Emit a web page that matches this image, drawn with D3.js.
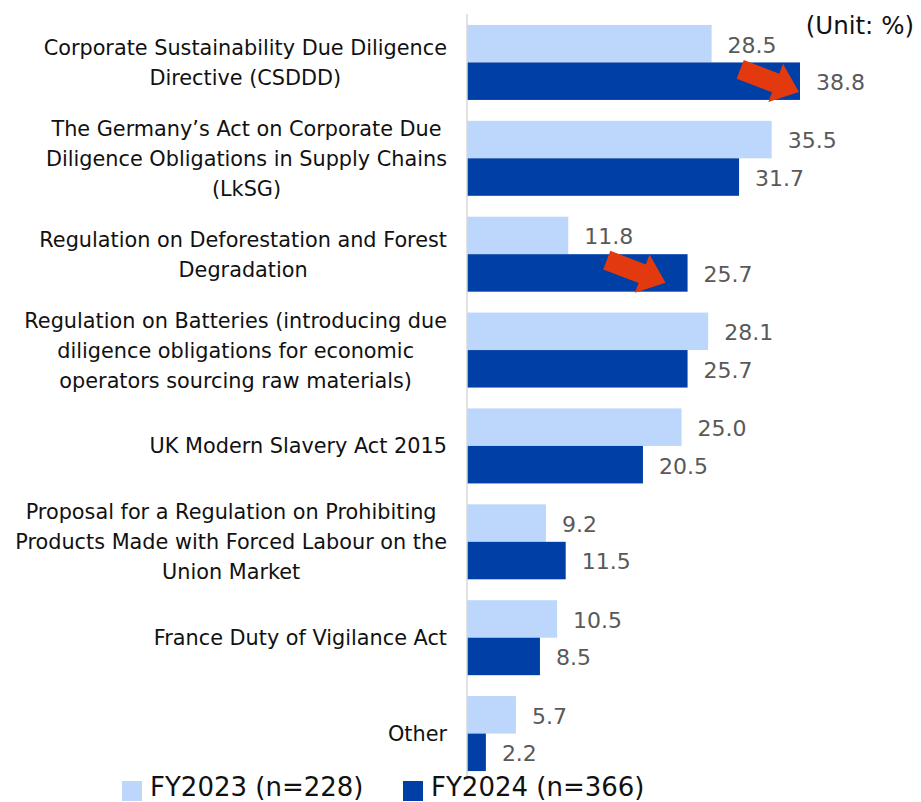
<!DOCTYPE html>
<html><head><meta charset="utf-8">
<script src="https://cdn.jsdelivr.net/npm/d3@7"></script>
<style>html,body{margin:0;padding:0;background:#fff;}svg{display:block;}</style>
</head><body>
<script>
const categories = [
  ["Corporate Sustainability Due Diligence", "Directive (CSDDD)"],
  ["The Germany\u2019s Act on Corporate Due", "Diligence Obligations in Supply Chains", "(LkSG)"],
  ["Regulation on Deforestation and Forest", "Degradation"],
  ["Regulation on Batteries (introducing due", "diligence obligations for economic", "operators sourcing raw materials)"],
  ["UK Modern Slavery Act 2015"],
  ["Proposal for a Regulation on Prohibiting", "Products Made with Forced Labour on the", "Union Market"],
  ["France Duty of Vigilance Act"],
  ["Other"]
];
const fy2023 = [28.5, 35.5, 11.8, 28.1, 25.0, 9.2, 10.5, 5.7];
const fy2024 = [38.8, 31.7, 25.7, 25.7, 20.5, 11.5, 8.5, 2.2];
const seriesNames = ["FY2023 (n=228)", "FY2024 (n=366)"];
const arrowOn = [0, 2]; // categories with highlighted FY2024 arrow

const W = 921, H = 802;
const colors = ["#bdd6fc", "#003fa6"];
const svg = d3.select("body").append("svg").attr("width", W).attr("height", H);
const font = "DejaVu Sans, Verdana, sans-serif";

const x = d3.scaleLinear().domain([0, 38.8]).range([467, 800]);
const y = d3.scaleBand().domain(d3.range(categories.length)).range([14.5, 781.5]).paddingInner(0.218).paddingOuter(0.109);
const ys = d3.scaleBand().domain([0, 1]).range([0, y.bandwidth()]);

const series = [fy2023, fy2024];
series.forEach((vals, si) => {
  const g = svg.append("g");
  g.selectAll("rect").data(vals).join("rect")
    .attr("x", x(0)).attr("y", (d, i) => y(i) + ys(si))
    .attr("width", d => x(d) - x(0)).attr("height", ys.bandwidth())
    .attr("fill", colors[si]);
  g.selectAll("text").data(vals).join("text")
    .attr("x", d => x(d) + 16).attr("y", (d, i) => y(i) + ys(si) + ys.bandwidth() / 2 + 1)
    .attr("dy", "0.36em").attr("font-family", font).attr("font-size", 22).attr("fill", "#595959")
    .text(d => d.toFixed(1));
});

// axis line
svg.append("line").attr("x1", x(0)).attr("x2", x(0)).attr("y1", 14).attr("y2", 776)
  .attr("stroke", "#d9d9d9").attr("stroke-width", 1.5);

// category labels
const lineH = 30, rightEdge = 447;
categories.forEach((lines, i) => {
  const g = svg.append("g");
  const cy = y(i) + y.bandwidth() / 2;
  const texts = lines.map((l, k) => g.append("text")
    .attr("y", cy + (k - (lines.length - 1) / 2) * lineH).attr("dy", "0.36em")
    .attr("font-family", font).attr("font-size", 20.8).attr("fill", "#111")
    .attr("text-anchor", "middle").text(l));
  const maxW = d3.max(texts, t => t.node().getComputedTextLength());
  texts.forEach(t => t.attr("x", rightEdge - maxW / 2));
});

// arrows
function arrow(tipX, tipY) {
  const L = 63, sw = 20, hw = 41, hl = 25, ang = 21 * Math.PI / 180;
  const pts = [[-L, -sw/2], [-hl, -sw/2], [-hl, -hw/2], [0, 0], [-hl, hw/2], [-hl, sw/2], [-L, sw/2]];
  const c = Math.cos(ang), s = Math.sin(ang);
  return pts.map(([px, py]) => [tipX + px * c - py * s, tipY + px * s + py * c]);
}
const arrowOffsets = [[-1, -8], [-22, -9]];
arrowOn.forEach((ci, k) => {
  const tipX = x(fy2024[ci]) + arrowOffsets[k][0];
  const tipY = y(ci) + ys(1) + ys.bandwidth() + arrowOffsets[k][1];
  svg.append("polygon").attr("points", arrow(tipX, tipY).map(p => p.join(",")).join(" "))
    .attr("fill", "#e3390e");
});

// unit
svg.append("text").attr("x", 914).attr("y", 25).attr("dy", "0.36em").attr("text-anchor", "end")
  .attr("font-family", font).attr("font-size", 24.5).attr("fill", "#111").text("(Unit: %)");

// legend
const legX = [122, 403];
seriesNames.forEach((n, i) => {
  svg.append("rect").attr("x", legX[i]).attr("y", 781).attr("width", 20).attr("height", 20).attr("fill", colors[i]);
  svg.append("text").attr("x", legX[i] + 28).attr("y", 796)
    .attr("font-family", font).attr("font-size", 26).attr("fill", "#111").text(n);
});
</script>
</body></html>
